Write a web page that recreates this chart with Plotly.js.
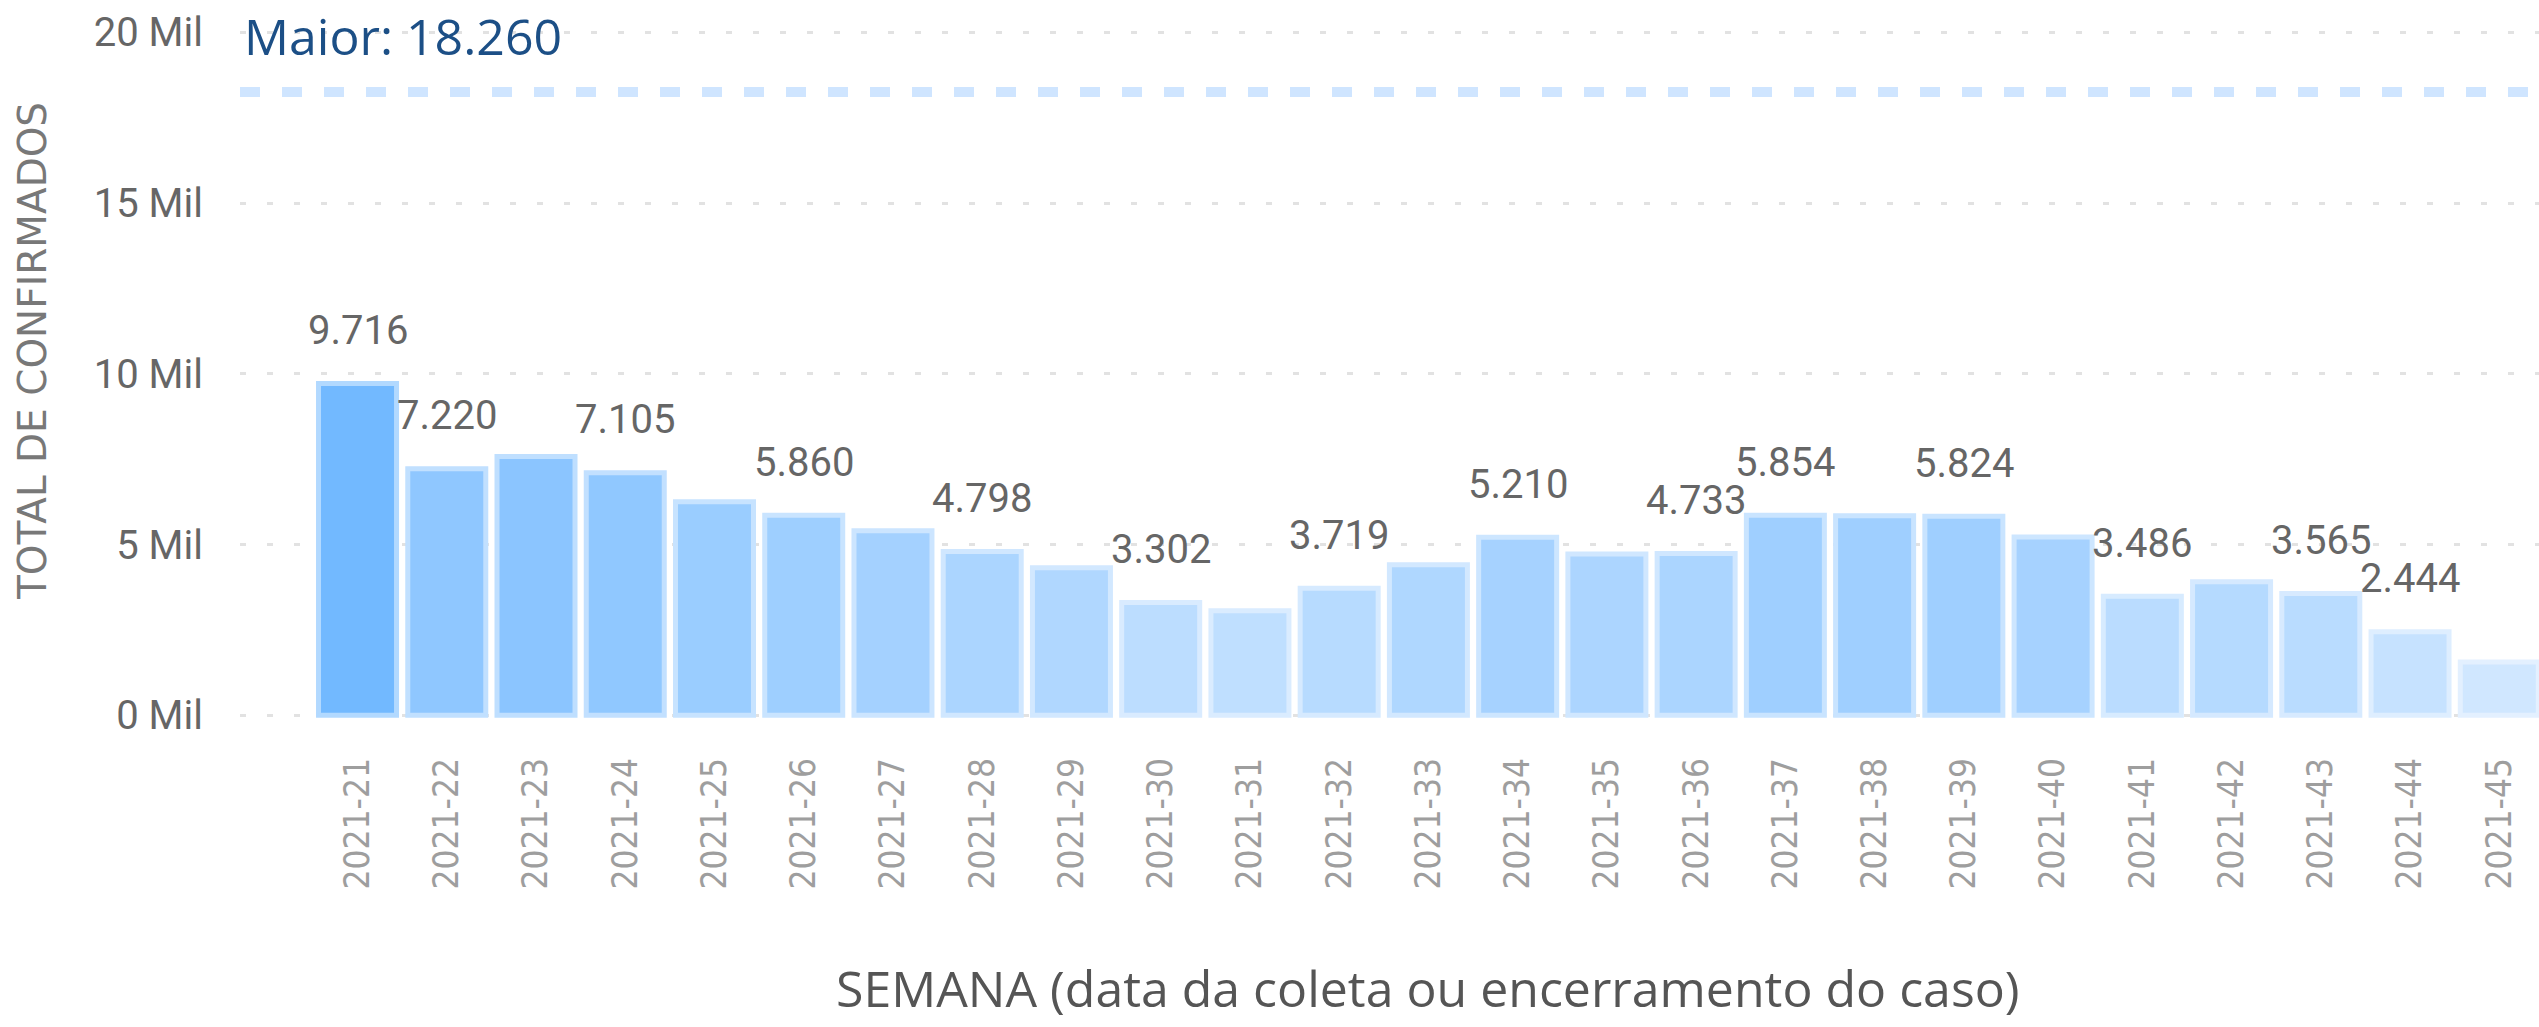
<!DOCTYPE html>
<html>
<head>
<meta charset="utf-8">
<script src="https://cdn.plot.ly/plotly-3.0.1.min.js"></script>
<style>
  html, body { margin: 0; padding: 0; background: #ffffff; }
  #chart { width: 2539px; height: 1027px; }
</style>
</head>
<body>
<div id="chart"></div>
<script>
// ---- data ----
const weeks = ["2021-21","2021-22","2021-23","2021-24","2021-25","2021-26","2021-27","2021-28","2021-29",
               "2021-30","2021-31","2021-32","2021-33","2021-34","2021-35","2021-36","2021-37","2021-38",
               "2021-39","2021-40","2021-41","2021-42","2021-43","2021-44","2021-45"];
const confirmed = [9716, 7220, 7580, 7105, 6250, 5860, 5400, 4798, 4320,
                   3302, 3060, 3719, 4410, 5210, 4720, 4733, 5854, 5840,
                   5824, 5220, 3486, 3910, 3565, 2444, 1560];
// weeks whose data label is visible in the reference
const labeledWeeks = ["2021-21","2021-22","2021-24","2021-26","2021-28","2021-30","2021-32",
                      "2021-34","2021-36","2021-37","2021-39","2021-41","2021-43","2021-44"];
const yTickVals = [0, 5000, 10000, 15000, 20000];
const yTickText = ["0 Mil", "5 Mil", "10 Mil", "15 Mil", "20 Mil"];
const maiorValue = 18260;
const maiorLabel = "Maior: ";
const xTitle = "SEMANA (data da coleta ou encerramento do caso)";
const yTitle = "TOTAL DE CONFIRMADOS";

function formatBR(n) {
  return String(Math.round(n)).replace(/\B(?=(\d{3})+(?!\d))/g, ".");
}

const vMin = Math.min(...confirmed);
const vMax = Math.max(...confirmed);

const barTrace = {
  type: "bar",
  x: weeks,
  y: confirmed,
  hoverinfo: "none",
  marker: {
    color: confirmed,
    cmin: vMin,
    cmax: vMax,
    colorscale: [[0, "#D0E7FF"], [1, "#72B9FF"]],
    showscale: false,
    line: {
      color: confirmed,
      cmin: vMin,
      cmax: vMax,
      colorscale: [[0, "#E3F0FF"], [1, "#B2D9FF"]],
      width: 5
    }
  }
};

const labelAnnotations = labeledWeeks.map(function (w) {
  const v = confirmed[weeks.indexOf(w)];
  return {
    x: w, y: v, xref: "x", yref: "y",
    text: formatBR(v),
    showarrow: false,
    yanchor: "middle",
    yshift: 53,
    font: { family: "Roboto, 'Liberation Sans', sans-serif", size: 40, color: "#666666" }
  };
});

const maiorAnnotation = {
  xref: "paper", x: 0, xanchor: "left", xshift: 2,
  yref: "y", y: maiorValue, yanchor: "middle", yshift: 56,
  text: maiorLabel + formatBR(maiorValue),
  showarrow: false,
  font: { family: "'Open Sans', sans-serif", size: 50, color: "#1C4F86" }
};

const yTitleAnnotation = {
  xref: "paper", x: 0, xanchor: "center", xshift: -208,
  yref: "paper", y: 0.5225, yanchor: "middle",
  textangle: -90,
  text: yTitle,
  showarrow: false,
  font: { family: "'DejaVu Sans', sans-serif", size: 39, color: "#787878" }
};

const xTitleAnnotation = {
  xref: "paper", x: 0.5168, xanchor: "center",
  yref: "paper", y: -0.3746, yanchor: "middle",
  text: xTitle,
  showarrow: false,
  font: { family: "'Open Sans', sans-serif", size: 50, color: "#555555" }
};

const layout = {
  width: 2539,
  height: 1027,
  margin: { l: 240, r: 0, t: 12, b: 305 },
  paper_bgcolor: "#ffffff",
  plot_bgcolor: "#ffffff",
  showlegend: false,
  bargap: 0.126,
  xaxis: {
    type: "category",
    range: [-1.317, 24.445],
    showgrid: false,
    zeroline: false,
    showline: false,
    ticks: "",
    tickangle: -90,
    ticklabelstandoff: 28,
    tickfont: { family: "'Liberation Sans Narrow', 'DejaVu Sans Condensed', sans-serif", size: 35, color: "#9E9E9E" },
    automargin: false
  },
  yaxis: {
    range: [-200, 20600],
    tickvals: yTickVals,
    ticktext: yTickText,
    showgrid: true,
    gridcolor: "#E2E2E2",
    gridwidth: 3,
    griddash: "6px,21px",
    zeroline: false,
    showline: false,
    ticks: "",
    ticklabelstandoff: 36,
    tickfont: { family: "Roboto, 'Liberation Sans', sans-serif", size: 40, color: "#666666" },
    automargin: false
  },
  shapes: [{
    type: "line",
    xref: "paper", x0: 0, x1: 1,
    yref: "y", y0: maiorValue, y1: maiorValue,
    line: { color: "#CFE5FF", width: 10, dash: "20px,22px" },
    layer: "above"
  }],
  annotations: labelAnnotations.concat([maiorAnnotation, yTitleAnnotation, xTitleAnnotation])
};

Plotly.newPlot("chart", [barTrace], layout, { displayModeBar: false, staticPlot: true });
</script>
</body>
</html>
